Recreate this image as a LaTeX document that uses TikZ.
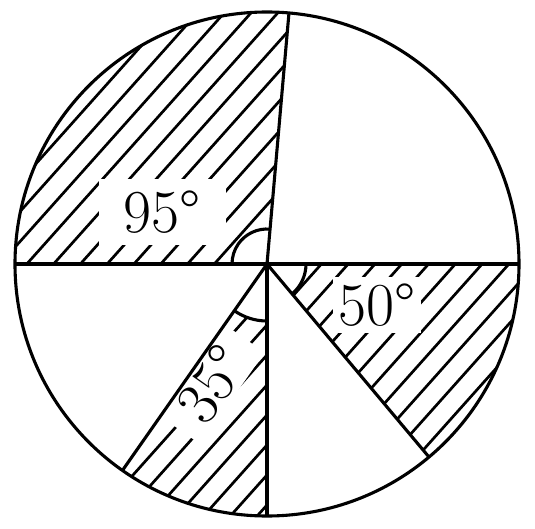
\documentclass[tikz,border=0pt]{standalone}
\usepackage{fontspec}
\setmainfont{Latin Modern Roman}
\begin{document}
\begin{tikzpicture}[x=1pt,y=1pt]
\tikzset{
  hatch/.style={line width=2.7pt},
  outline/.style={line width=3.1pt},
  lbl/.style={fill=white, inner sep=0pt, font=\fontsize{61}{64}\selectfont}
}
\newcommand{\myhatch}{%
  \foreach \k in {-12,...,30} {%
    \pgfmathsetmacro\c{294+30*\k}%
    \draw[hatch] ({\c/1.12},0) -- ({(\c-529)/1.12},-529);
  }%
}
\useasboundingbox (0,0) rectangle (535,-529);
\coordinate (O) at (267,-264);
\def\R{252}
% hatched sectors
\begin{scope}
  \clip (O) -- ++(85:\R) arc[start angle=85,end angle=180,radius=\R] -- cycle;
  \myhatch
\end{scope}
\begin{scope}
  \clip (O) -- ++(-50:\R) arc[start angle=-50,end angle=0,radius=\R] -- cycle;
  \myhatch
\end{scope}
\begin{scope}
  \clip (O) -- ++(-125:\R) arc[start angle=-125,end angle=-90,radius=\R] -- cycle;
  \myhatch
\end{scope}
% white interiors of the angle marks
\fill[white] (O) -- ++(85:35) arc[start angle=85,end angle=180,radius=35] -- cycle;
\fill[white] (O) -- ++(-50:39) arc[start angle=-50,end angle=0,radius=39] -- cycle;
\fill[white] (O) -- ++(-125:57) arc[start angle=-125,end angle=-90,radius=57] -- cycle;
% labels on white boxes
\node[lbl, minimum width=127, minimum height=66] (t95) at (162,-212) {95°};
\node[lbl, minimum width=88, minimum height=56] (t50) at (377,-305) {50°};
\node[lbl, rotate=55, minimum width=112, minimum height=50] (t35) at (212,-384) {35°};
% outline
\node[draw, circle, outline, minimum size=504, inner sep=0pt] (c) at (O) {};
\draw[outline] (O) ++(180:\R) coordinate (L) -- (O) -- ++(0:\R) coordinate (Rt);
\draw[outline] (O) -- ++(85:\R) coordinate (T);
\draw[outline] (O) -- ++(-90:\R) coordinate (B);
\draw[outline] (O) -- ++(-50:\R) coordinate (P50);
\draw[outline] (O) -- ++(-125:\R) coordinate (P35);
% angle marks
\draw[outline] (O) ++(85:35) arc[start angle=85,end angle=180,radius=35];
\draw[outline] (O) ++(-50:39) arc[start angle=-50,end angle=0,radius=39];
\draw[outline] (O) ++(-125:57) arc[start angle=-125,end angle=-90,radius=57];
\end{tikzpicture}
\end{document}
